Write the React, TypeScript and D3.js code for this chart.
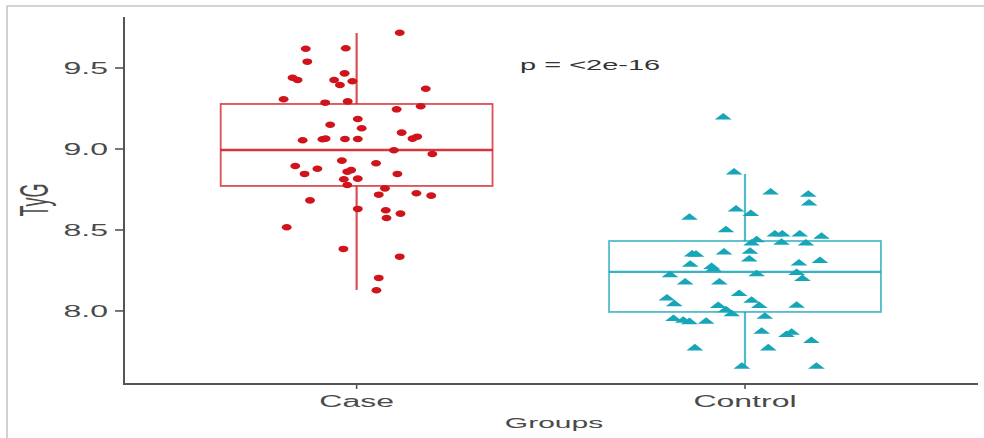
import React, { useRef, useEffect } from "react";
import * as d3 from "d3";

const groups = ["Case", "Control"];
const colors = ["#d0141c", "#17a6b8"];
const yTicks = [8.0, 8.5, 9.0, 9.5];

// box stats: [whisker low, q1, median, q3, whisker high]
const caseStats = [8.13, 8.772, 8.994, 9.278, 9.716];
const controlStats = [7.654, 7.994, 8.241, 8.432, 8.846];

// TyG values and horizontal jitter (in group units)
const caseValues = [
  9.718, 9.619, 9.622, 9.539, 9.467, 9.44, 9.426, 9.426, 9.418, 9.395, 9.372, 9.307,
  9.286, 9.294, 9.245, 9.264, 9.185, 9.15, 9.128, 9.101, 9.054, 9.06, 9.064, 9.062,
  9.062, 9.064, 9.076, 8.992, 8.969, 8.895, 8.878, 8.928, 8.87, 8.912, 8.846, 8.86,
  8.846, 8.813, 8.817, 8.778, 8.757, 8.718, 8.727, 8.712, 8.683, 8.63, 8.622, 8.601,
  8.574, 8.517, 8.383, 8.335, 8.204, 8.128,
];
const caseJitter = [
  0.111, -0.131, -0.028, -0.127, -0.031, -0.165, -0.152, -0.058, -0.011, -0.043, 0.178, -0.188,
  -0.081, -0.023, 0.103, 0.165, 0.003, -0.068, 0.013, 0.116, -0.139, -0.088, -0.08, -0.03,
  0.003, 0.144, 0.156, 0.096, 0.195, -0.158, -0.101, -0.038, -0.014, 0.05, -0.134, -0.024,
  0.105, -0.033, 0.003, -0.024, 0.073, 0.057, 0.154, 0.192, -0.12, 0.003, 0.075, 0.113,
  0.077, -0.18, -0.034, 0.111, 0.057, 0.051,
];
const controlValues = [
  9.196, 8.856, 8.733, 8.718, 8.665, 8.628, 8.599, 8.576, 8.5, 8.473, 8.473, 8.473,
  8.459, 8.438, 8.418, 8.422, 8.418, 8.35, 8.348, 8.362, 8.366, 8.319, 8.286, 8.273,
  8.257, 8.294, 8.309, 8.222, 8.227, 8.236, 8.199, 8.177, 8.177, 8.105, 8.078, 8.043,
  8.064, 8.031, 8.033, 8.031, 8.006, 7.98, 7.965, 7.951, 7.94, 7.932, 7.934, 7.872,
  7.852, 7.866, 7.815, 7.77, 7.77, 7.656, 7.656,
];
const controlJitter = [
  -0.056, -0.028, 0.066, 0.163, 0.165, -0.023, 0.015, -0.143, -0.049, 0.077, 0.096, 0.141,
  0.197, 0.03, 0.017, 0.094, 0.157, -0.136, -0.126, -0.054, 0.013, 0.011, -0.141, -0.086,
  -0.081, 0.139, 0.193, -0.193, 0.03, 0.133, 0.148, -0.154, -0.066, -0.015, -0.201, -0.182,
  0.017, 0.037, 0.133, -0.069, -0.049, -0.034, 0.051, -0.184, -0.159, -0.143, -0.1, 0.043,
  0.107, 0.12, 0.171, -0.129, 0.06, -0.008, 0.184,
];

const W = 984;
const H = 438;
const SX = 2; // the picture is stretched horizontally
const FONT = "'Liberation Sans', Arial, sans-serif";
const TXT = "#4a4a4a";

export default function App() {
  const svgRef = useRef<SVGSVGElement>(null);

  useEffect(() => {
    const svg = d3.select(svgRef.current);
    svg.selectAll("*").remove();

    const x = d3.scaleLinear().domain([-0.6, 1.6]).range([123.6, 978]);
    const y = d3.scaleLinear().domain([7.549, 9.815]).range([384, 17]);
    const unit = x(1) - x(0);

    // outer frame
    svg.append("path")
      .attr("d", `M7,${H} V6 H${W}`)
      .attr("fill", "none")
      .attr("stroke", "#c6c6c6")
      .attr("stroke-width", 1.6);

    const stats = [caseStats, controlStats];
    const values = [caseValues, controlValues];
    const jitter = [caseJitter, controlJitter];

    stats.forEach((s, i) => {
      const g = svg.append("g");
      const cx = x(i);
      const half = unit * 0.35;
      g.append("line")
        .attr("x1", cx).attr("x2", cx)
        .attr("y1", y(s[0])).attr("y2", y(s[1]))
        .attr("stroke", colors[i]).attr("stroke-width", 2.2).attr("opacity", 0.75);
      g.append("line")
        .attr("x1", cx).attr("x2", cx)
        .attr("y1", y(s[3])).attr("y2", y(s[4]))
        .attr("stroke", colors[i]).attr("stroke-width", 2.2).attr("opacity", 0.75);
      g.append("rect")
        .attr("x", cx - half).attr("width", half * 2)
        .attr("y", y(s[3])).attr("height", y(s[1]) - y(s[3]))
        .attr("fill", "white")
        .attr("stroke", colors[i]).attr("stroke-width", 1.8).attr("stroke-opacity", 0.75);
      g.append("line")
        .attr("x1", cx - half).attr("x2", cx + half)
        .attr("y1", y(s[2])).attr("y2", y(s[2]))
        .attr("stroke", colors[i]).attr("stroke-width", 2.4).attr("opacity", 0.85);
    });

    const circle = d3.symbol().type(d3.symbolCircle).size(34)();
    const tri = d3.symbol().type(d3.symbolTriangle).size(34)();

    values.forEach((vals, i) => {
      svg.append("g")
        .selectAll("path")
        .data(vals)
        .join("path")
        .attr("d", i === 0 ? circle : tri)
        .attr("transform", (d, k) =>
          `translate(${x(i + jitter[i][k])},${y(d)}) scale(${i === 0 ? 1.5 : 1.9},${i === 0 ? 1 : 0.85})`)
        .attr("fill", colors[i]);
    });

    // axes
    svg.append("path")
      .attr("d", `M124,17 V384 H978`)
      .attr("fill", "none")
      .attr("stroke", "#555")
      .attr("stroke-width", 2);

    const yAxis = svg.append("g");
    yTicks.forEach((t) => {
      yAxis.append("line")
        .attr("x1", 115).attr("x2", 124)
        .attr("y1", y(t)).attr("y2", y(t))
        .attr("stroke", "#555").attr("stroke-width", 1.6);
      yAxis.append("text")
        .attr("transform", `translate(108,${y(t) + 5.8}) scale(${SX},1)`)
        .attr("text-anchor", "end")
        .attr("font-family", FONT)
        .attr("font-size", 16)
        .attr("fill", TXT)
        .text(d3.format(".1f")(t));
    });

    groups.forEach((gname, i) => {
      svg.append("line")
        .attr("x1", x(i)).attr("x2", x(i))
        .attr("y1", 384).attr("y2", 389)
        .attr("stroke", "#555").attr("stroke-width", 1.6);
      svg.append("text")
        .attr("transform", `translate(${x(i)},407) scale(${SX},1)`)
        .attr("text-anchor", "middle")
        .attr("font-family", FONT)
        .attr("font-size", 16)
        .attr("fill", TXT)
        .text(gname);
    });

    svg.append("text")
      .attr("transform", `translate(554,428) scale(${SX},1)`)
      .attr("text-anchor", "middle")
      .attr("font-family", FONT)
      .attr("font-size", 15)
      .attr("fill", TXT)
      .text("Groups");

    svg.append("text")
      .attr("transform", `translate(48,200) scale(2.3,1) rotate(-90)`)
      .attr("text-anchor", "middle")
      .attr("font-family", FONT)
      .attr("font-size", 18)
      .attr("fill", TXT)
      .text("TyG");

    svg.append("text")
      .attr("transform", `translate(520,70) scale(${SX},1)`)
      .attr("font-family", FONT)
      .attr("font-size", 14.5)
      .attr("fill", "#333")
      .text("p = <2e-16");
  }, []);

  return (
    <svg
      ref={svgRef}
      width={W}
      height={H}
      style={{ position: "absolute", left: 0, top: 0, background: "white" }}
    />
  );
}
